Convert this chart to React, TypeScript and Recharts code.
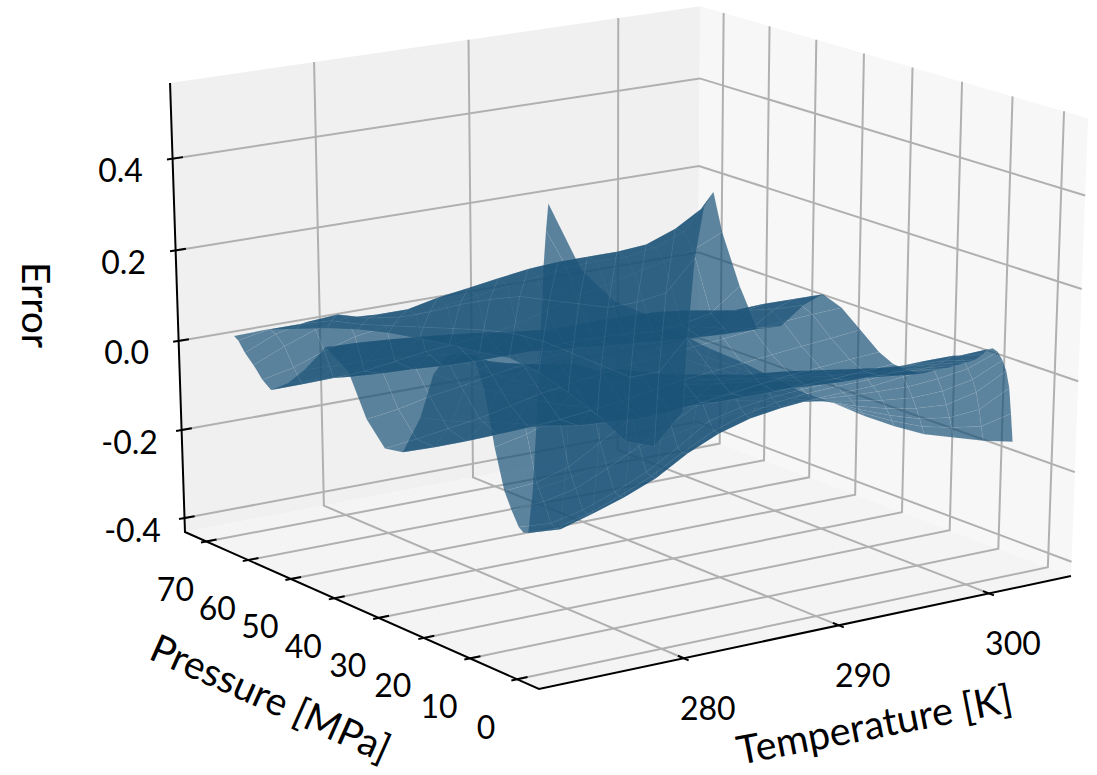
import React from 'react';
import { ScatterChart, Scatter, XAxis, YAxis } from 'recharts';

const W = 1097, H = 775;
// axis ranges
const T_LIM = [270.95, 305.6];
const P_LIM = [-4.6, 75.2];
const Z_LIM = [-0.432, 0.563];
const T_TICKS = [280, 290, 300];
const P_TICKS = [0, 10, 20, 30, 40, 50, 60, 70];
const Z_TICKS = [-0.4, -0.2, 0, 0.2, 0.4];
const Z_LABELS = ['-0.4', '-0.2', '0.0', '0.2', '0.4'];

const temperatures = [273.75, 275.75, 277.75, 279.75, 281.75, 283.75, 285.75, 287.75, 289.75, 291.75, 293.75, 295.75, 297.75, 299.75, 301.75, 303.75];
const pressures = [2.5, 3, 3.5, 4.2, 5, 6, 7, 8, 9, 10.5, 12, 14, 16, 18, 21, 24, 27, 30, 34, 38, 42, 46, 51, 56, 60, 64, 66, 68, 70, 71.5, 72.5];
const ERROR_BIAS = -0.014;
const errors = [
  [0.547, 0.4, 0.325, 0.285, 0.235, 0.19, 0.15, 0.105, 0.06, 0.025, -0.015, -0.05, -0.08, -0.1, -0.12, -0.135],
  [0.49, 0.36, 0.29, 0.255, 0.21, 0.17, 0.135, 0.095, 0.055, 0.025, -0.01, -0.04, -0.065, -0.08, -0.09, -0.075],
  [0.42, 0.32, 0.26, 0.225, 0.185, 0.15, 0.12, 0.085, 0.05, 0.025, -0.005, -0.03, -0.05, -0.06, -0.055, -0.02],
  [0.27, 0.24, 0.2, 0.17, 0.14, 0.115, 0.09, 0.065, 0.04, 0.022, 0.0, -0.018, -0.03, -0.035, -0.02, 0.015],
  [0.11, 0.125, 0.115, 0.105, 0.085, 0.07, 0.06, 0.045, 0.03, 0.02, 0.008, -0.003, -0.01, -0.008, 0.005, 0.035],
  [-0.06, -0.05, -0.035, -0.02, -0.005, 0.01, 0.02, 0.025, 0.02, 0.02, 0.015, 0.012, 0.01, 0.015, 0.025, 0.05],
  [-0.154, -0.16, -0.14, -0.118, -0.09, -0.05, -0.02, 0.0, 0.01, 0.016, 0.018, 0.02, 0.028, 0.035, 0.042, 0.054],
  [-0.158, -0.162, -0.145, -0.12, -0.09, -0.052, -0.018, 0.005, 0.018, 0.025, 0.028, 0.03, 0.035, 0.04, 0.045, 0.048],
  [-0.15, -0.155, -0.14, -0.115, -0.085, -0.045, 0.0, 0.015, 0.025, 0.03, 0.033, 0.036, 0.04, 0.042, 0.042, 0.032],
  [-0.12, -0.115, -0.1, -0.07, -0.035, 0.0, 0.035, 0.045, 0.05, 0.052, 0.05, 0.042, 0.035, 0.03, 0.025, 0.015],
  [-0.085, -0.08, -0.06, -0.02, 0.02, 0.05, 0.07, 0.07, 0.065, 0.058, 0.048, 0.038, 0.028, 0.02, 0.012, 0.004],
  [0.0, 0.015, 0.04, 0.07, 0.09, 0.095, 0.08, 0.068, 0.055, 0.04, 0.03, 0.018, 0.01, 0.004, -0.003, -0.01],
  [0.11, 0.105, 0.11, 0.115, 0.11, 0.09, 0.07, 0.05, 0.04, 0.028, 0.018, 0.007, -0.002, -0.01, -0.016, -0.024],
  [0.17, 0.15, 0.135, 0.125, 0.095, 0.07, 0.055, 0.04, 0.028, 0.018, 0.008, -0.002, -0.01, -0.018, -0.026, -0.035],
  [0.175, 0.14, 0.115, 0.09, 0.07, 0.05, 0.035, 0.02, 0.008, 0.0, -0.01, -0.02, -0.03, -0.04, -0.048, -0.055],
  [0.155, 0.115, 0.08, 0.05, 0.03, 0.01, -0.005, -0.02, -0.03, -0.04, -0.045, -0.05, -0.055, -0.058, -0.058, -0.058],
  [0.105, 0.07, 0.04, 0.015, -0.01, -0.03, -0.045, -0.055, -0.065, -0.068, -0.068, -0.068, -0.066, -0.064, -0.06, -0.056],
  [0.0, -0.02, -0.035, -0.05, -0.068, -0.08, -0.085, -0.09, -0.088, -0.08, -0.072, -0.063, -0.055, -0.05, -0.045, -0.04],
  [-0.09, -0.092, -0.092, -0.09, -0.087, -0.082, -0.075, -0.067, -0.055, -0.045, -0.038, -0.032, -0.025, -0.018, -0.012, -0.005],
  [-0.098, -0.09, -0.08, -0.07, -0.055, -0.04, -0.03, -0.02, -0.01, -0.005, 0.002, 0.008, 0.015, 0.022, 0.027, 0.03],
  [-0.05, -0.04, -0.025, -0.015, -0.003, 0.008, 0.015, 0.025, 0.032, 0.035, 0.038, 0.042, 0.045, 0.048, 0.047, 0.046],
  [0.04, 0.04, 0.042, 0.045, 0.048, 0.05, 0.05, 0.053, 0.055, 0.053, 0.05, 0.042, 0.03, 0.018, 0.01, 0.007],
  [0.073, 0.071, 0.066, 0.06, 0.053, 0.045, 0.035, 0.027, 0.012, 0.005, -0.005, -0.015, -0.025, -0.04, -0.052, -0.06],
  [0.005, 0.002, 0.0, -0.005, -0.012, -0.02, -0.03, -0.04, -0.05, -0.055, -0.062, -0.068, -0.075, -0.079, -0.083, -0.085],
  [-0.04, -0.043, -0.05, -0.055, -0.058, -0.063, -0.065, -0.065, -0.065, -0.06, -0.06, -0.063, -0.07, -0.065, -0.05, 0.0],
  [-0.07, -0.07, -0.068, -0.065, -0.055, -0.045, -0.04, -0.032, -0.02, 0.0, 0.02, 0.035, 0.05, 0.065, 0.08, 0.11],
  [-0.055, -0.04, -0.015, 0.005, 0.015, 0.03, 0.04, 0.05, 0.06, 0.07, 0.078, 0.082, 0.08, 0.09, 0.115, 0.195],
  [-0.03, 0.0, 0.025, 0.04, 0.035, 0.035, 0.05, 0.06, 0.07, 0.08, 0.085, 0.085, 0.085, 0.09, 0.115, 0.155],
  [-0.01, 0.02, 0.035, 0.04, 0.02, 0.01, 0.01, 0.015, 0.015, 0.01, -0.01, -0.03, -0.05, -0.05, -0.04, 0.03],
  [0.012, 0.025, 0.025, 0.02, 0.0, -0.015, -0.03, -0.045, -0.06, -0.08, -0.11, -0.15, -0.19, -0.23, -0.23, -0.16],
  [0.018, 0.02, 0.01, 0.0, -0.015, -0.035, -0.06, -0.085, -0.115, -0.14, -0.185, -0.245, -0.31, -0.385, -0.41, -0.34],
];

// camera: fitted perspective of the unit box
function project(T: number, P: number, z: number) {
  const u = (T - T_LIM[0]) / (T_LIM[1] - T_LIM[0]);
  const v = (P - P_LIM[0]) / (P_LIM[1] - P_LIM[0]);
  const w = (z - Z_LIM[0]) / (Z_LIM[1] - Z_LIM[0]);
  const d = 1 + 0.05764 * u + 0.08117 * v - 0.0373 * w;
  return {
    x: (539 + 593.7 * u - 339 * v - 22.5 * w) / d,
    y: (689 - 79.8 * u - 113.8 * v - 488.6 * w) / d,
  };
}

const [T0, T1] = T_LIM, [P0, P1] = P_LIM, [Z0, Z1] = Z_LIM;
const poly = (pts: number[][]) => pts.map(([t, p, z]) => project(t, p, z));

const panes = [
  { fill: '#f0f0f0', pts: poly([[T0, P1, Z0], [T1, P1, Z0], [T1, P1, Z1], [T0, P1, Z1]]) },
  { fill: '#f7f7f7', pts: poly([[T1, P1, Z0], [T1, P0, Z0], [T1, P0, Z1], [T1, P1, Z1]]) },
  { fill: '#f4f4f4', pts: poly([[T0, P0, Z0], [T1, P0, Z0], [T1, P1, Z0], [T0, P1, Z0]]) },
];
const grid = [
  ...T_TICKS.map((t) => poly([[t, P0, Z0], [t, P1, Z0], [t, P1, Z1]])),
  ...P_TICKS.map((p) => poly([[T0, p, Z0], [T1, p, Z0], [T1, p, Z1]])),
  ...Z_TICKS.map((z) => poly([[T0, P1, z], [T1, P1, z], [T1, P0, z]])),
];
const axes = [
  poly([[T0, P1, Z1], [T0, P1, Z0], [T0, P0, Z0], [T1, P0, Z0]]),
  ...T_TICKS.map((t) => poly([[t, P0 - 1, Z0], [t, P0 + 1.2, Z0]])),
  ...P_TICKS.map((p) => poly([[T0 - 0.35, p, Z0], [T0 + 0.65, p, Z0]])),
  ...Z_TICKS.map((z) => poly([[T0 - 0.35, P1, z], [T0 + 0.65, P1, z]])),
];
const quads: { x: number; y: number }[][] = [];
const at = (i: number, j: number) => project(temperatures[j], pressures[i], errors[i][j] + ERROR_BIAS);
for (let i = 0; i < pressures.length - 1; i++) {
  for (let j = 0; j < temperatures.length - 1; j++) {
    quads.push([at(i, j), at(i, j + 1), at(i + 1, j + 1), at(i + 1, j), at(i, j)]);
  }
}

const shift = (p: { x: number; y: number }, dx: number, dy: number) => ({ x: p.x + dx, y: p.y + dy });
const tickLabels = [
  ...T_TICKS.map((t) => ({ ...shift(project(t, P0, Z0), 24, 49), label: String(t), angle: 0, size: 32 })),
  ...P_TICKS.map((p) => ({ ...shift(project(T0, p, Z0), -31, 47), label: String(p), angle: 0, size: 32 })),
  ...Z_TICKS.map((z, i) => ({ ...shift(project(T0, P1, z), -52, 11), label: Z_LABELS[i], angle: 0, size: 32 })),
];
const axisLabels = [
  { x: 874, y: 723, label: 'Temperature [K]', angle: -11, size: 39.5 },
  { x: 271, y: 697, label: 'Pressure [MPa]', angle: 24, size: 39 },
  { x: 37, y: 305, label: 'Error', angle: 90, size: 39 },
];

const NoDot = () => null;
const TextDot = (props: any) => {
  const { cx, cy, payload } = props;
  return (
    <text
      x={cx}
      y={cy}
      textAnchor="middle"
      dominantBaseline="central"
      fontFamily="Lato"
      fontSize={payload.size}
      fill="#000"
      transform={`rotate(${payload.angle} ${cx} ${cy})`}
    >
      {payload.label}
    </text>
  );
};

export default function App() {
  return (
    <div style={{ position: 'absolute', left: 0, top: 0, width: W, height: H }}>
      <ScatterChart width={W} height={H} margin={{ top: 0, right: 0, bottom: 0, left: 0 }}>
        <XAxis type="number" dataKey="x" domain={[0, W]} hide allowDataOverflow />
        <YAxis type="number" dataKey="y" domain={[0, H]} reversed hide allowDataOverflow />
        {panes.map((p, i) => (
          <Scatter key={`pane${i}`} data={p.pts} shape={NoDot} isAnimationActive={false}
            line={{ fill: p.fill, stroke: 'none' }} />
        ))}
        {grid.map((g, i) => (
          <Scatter key={`grid${i}`} data={g} shape={NoDot} isAnimationActive={false}
            line={{ stroke: '#b0b0b0', strokeWidth: 2, fill: 'none' }} />
        ))}
        {axes.map((g, i) => (
          <Scatter key={`axis${i}`} data={g} shape={NoDot} isAnimationActive={false}
            line={{ stroke: '#000', strokeWidth: 2, fill: 'none' }} />
        ))}
        {quads.map((q, i) => (
          <Scatter key={`q${i}`} data={q} shape={NoDot} isAnimationActive={false}
            line={{ fill: '#1b5378', fillOpacity: 0.7, stroke: '#ffffff', strokeOpacity: 0.09, strokeWidth: 0.6 }} />
        ))}
        <Scatter data={tickLabels} shape={TextDot} isAnimationActive={false} />
        <Scatter data={axisLabels} shape={TextDot} isAnimationActive={false} />
      </ScatterChart>
    </div>
  );
}
